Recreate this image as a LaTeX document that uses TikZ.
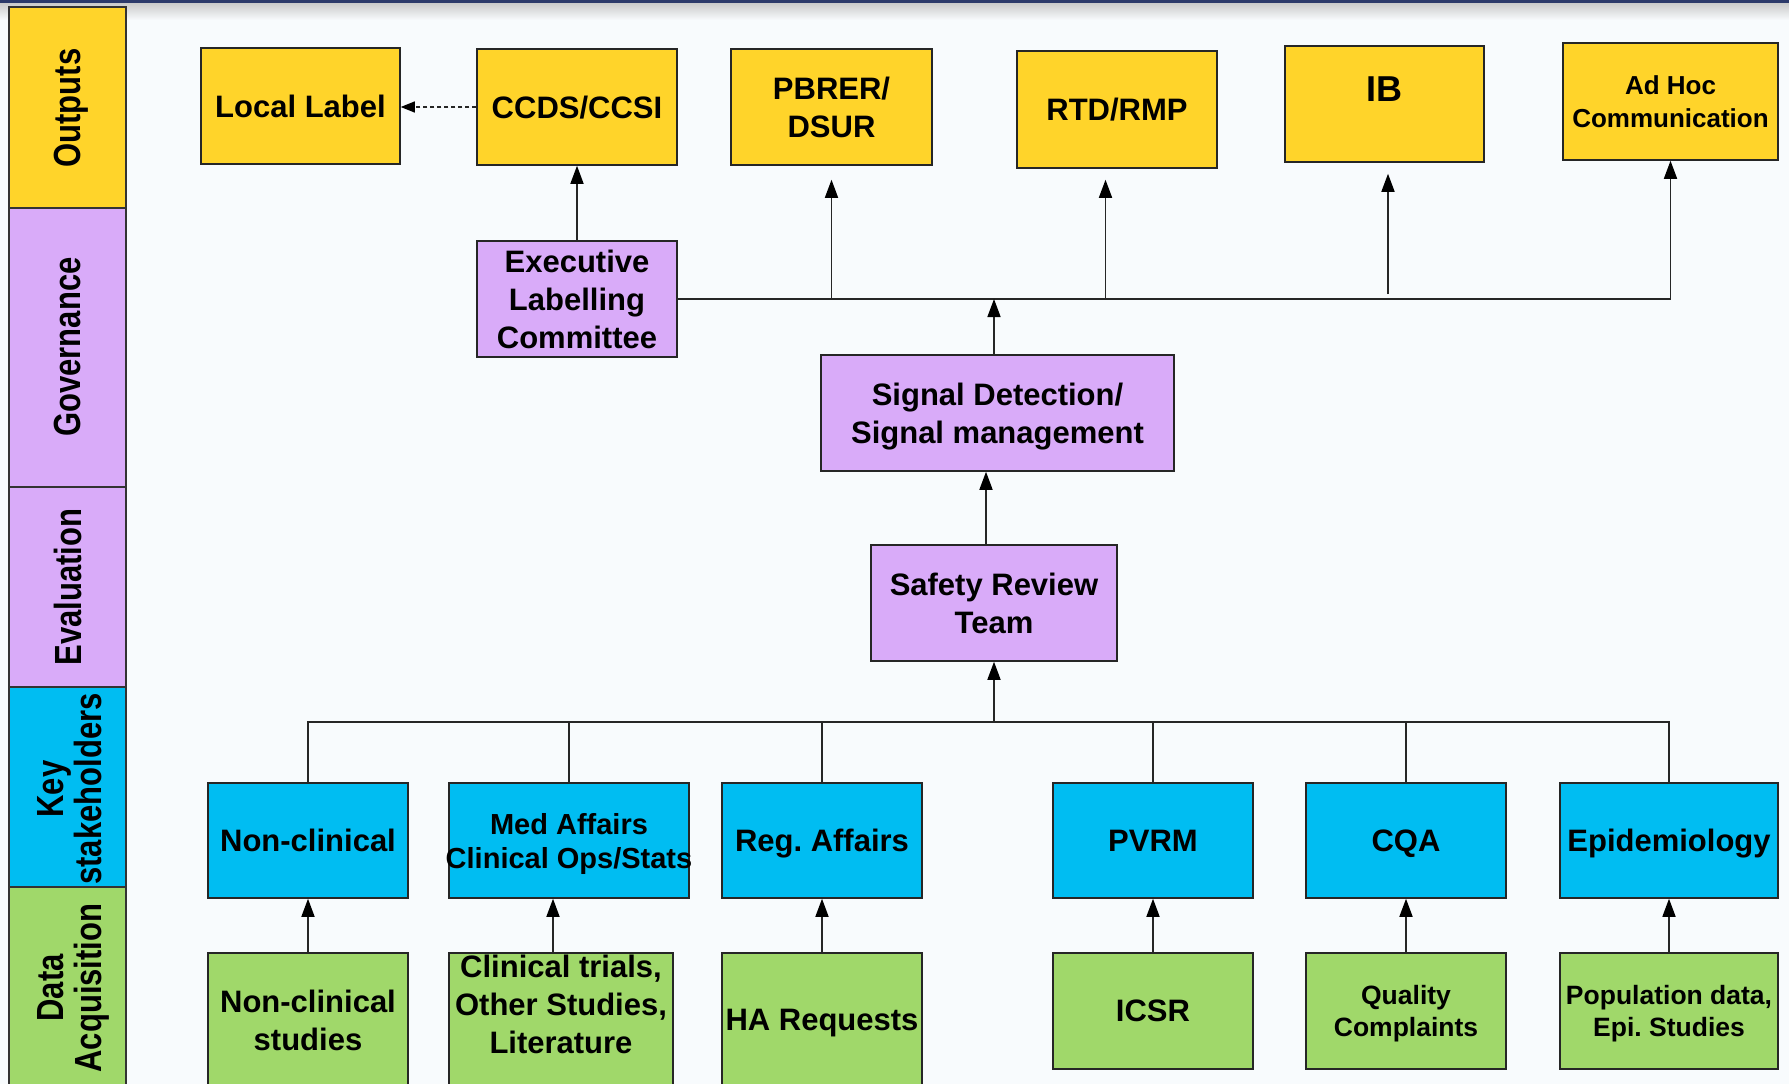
\documentclass[tikz,border=0pt]{standalone}
\usepackage{fontspec}
\setmainfont{Liberation Sans}
\usetikzlibrary{arrows.meta,calc}
\definecolor{ylw}{HTML}{FFD42A}
\definecolor{prp}{HTML}{D9ABF9}
\definecolor{cyn}{HTML}{00BDF2}
\definecolor{grn}{HTML}{A0D86A}
\definecolor{bgc}{HTML}{F8FBFD}
\definecolor{navy}{HTML}{2C3A6A}
\newcommand\sidetext[1]{\scalebox{1}[1.22]{\begin{tabular}{@{}c@{}}#1\end{tabular}}}
\newcommand\zw[1]{\makebox[0pt]{#1}}
\tikzset{
  bx/.style={draw=black!85, line width=1.5pt, inner sep=0pt, align=center, text depth=0pt,
    font=\fontsize{31}{38}\selectfont\bfseries},
  txt/.style={inner sep=0pt, align=center, text depth=0pt, font=\fontsize{31}{38}\selectfont\bfseries},
  band/.style={draw=black!80, line width=1.5pt},
  sidelbl/.style={rotate=90, inner sep=0pt, font=\fontsize{31}{31}\selectfont\bfseries},
  ln/.style={draw=black!85, line width=1.5pt},
  arr/.style={ln, -{Triangle[length=18pt,width=13pt,fill=black,color=black]}},
  dsh/.style={draw=black!85, line width=1.2pt, dash pattern=on 4pt off 3pt, -{Triangle[length=14pt,width=11pt,fill=black,color=black]}}
}
\begin{document}
\begin{tikzpicture}[x=1pt,y=-1pt]
\useasboundingbox (0,0) rectangle (1789,1084);
\fill[bgc] (0,0) rectangle (1789,1084);
\shade[top color=black!22, bottom color=bgc] (0,2) rectangle (1789,20);
\fill[navy] (0,0) rectangle (1789,3);

% side column
\draw[band, fill=ylw] (9,7) rectangle (126,208);
\draw[band, fill=prp] (9,208) rectangle (126,487);
\draw[band, fill=prp] (9,487) rectangle (126,687);
\draw[band, fill=cyn] (9,687) rectangle (126,887);
\draw[band, fill=grn] (9,887) rectangle (126,1095);
\node[sidelbl] (lout) at (73,108) {\sidetext{Outputs}};
\node[sidelbl] (lgov) at (73,347) {\sidetext{Governance}};
\node[sidelbl] (leva) at (73,587) {\sidetext{Evaluation}};
\node[sidelbl] (lkey) at (75,789) {\sidetext{Key\\stakeholders}};
\node[sidelbl] (ldat) at (75,988) {\sidetext{Data\\Acquisition}};

% outputs
\node[bx, fill=ylw, minimum width=199pt, minimum height=116pt] (loc) at (300.5,106) {Local Label};
\node[bx, fill=ylw, minimum width=200pt, minimum height=116pt] (ccds) at (577,107) {CCDS/CCSI};
\node[bx, fill=ylw, minimum width=201pt, minimum height=116pt] (pbrer) at (831.5,107) {PBRER/\\DSUR};
\node[bx, fill=ylw, minimum width=200pt, minimum height=117pt] (rtd) at (1117,109.5) {RTD/RMP};
\node[bx, fill=ylw, minimum width=199pt, minimum height=116pt] (ib) at (1384.5,104) {};
\node[txt, font=\fontsize{36}{40}\selectfont\bfseries] (ibtxt) at (1384.5,89) {IB};
\node[bx, fill=ylw, minimum width=215pt, minimum height=117pt, font=\fontsize{26}{33}\selectfont\bfseries] (adhoc) at (1670.5,101.5) {Ad Hoc\\\zw{Communication}};

% governance / evaluation
\node[bx, fill=prp, minimum width=200pt, minimum height=116pt] (elc) at (577,299) {Executive\\Labelling\\Committee};
\node[bx, fill=prp, minimum width=353pt, minimum height=116pt] (sig) at (997.5,413) {Signal Detection/\\Signal management};
\node[bx, fill=prp, minimum width=246pt, minimum height=116pt] (srt) at (994,603) {Safety Review\\Team};

% key stakeholders
\node[bx, fill=cyn, minimum width=200pt, minimum height=115pt] (nc) at (308,840.5) {Non-clinical};
\node[bx, fill=cyn, minimum width=240pt, minimum height=115pt, font=\fontsize{29}{34}\selectfont\bfseries] (med) at (569,840.5) {Med Affairs\\\zw{Clinical Ops/Stats}};
\node[bx, fill=cyn, minimum width=200pt, minimum height=115pt] (reg) at (822,840.5) {Reg.\ Affairs};
\node[bx, fill=cyn, minimum width=200pt, minimum height=115pt] (pvrm) at (1153,840.5) {PVRM};
\node[bx, fill=cyn, minimum width=200pt, minimum height=115pt] (cqa) at (1406,840.5) {CQA};
\node[bx, fill=cyn, minimum width=218pt, minimum height=115pt] (epi) at (1669,840.5) {\zw{Epidemiology}};

% data acquisition
\node[bx, fill=grn, minimum width=200pt, minimum height=134pt] (ncs) at (308,1020) {Non-clinical\\studies};
\node[bx, fill=grn, minimum width=224pt, minimum height=134pt] (ctl) at (561,1020) {};
\node[txt] (ctltxt) at (561,1004.5) {Clinical trials,\\Other Studies,\\Literature};
\node[bx, fill=grn, minimum width=200pt, minimum height=134pt] (ha) at (822,1020) {HA Requests};
\node[bx, fill=grn, minimum width=200pt, minimum height=116pt] (icsr) at (1153,1011) {ICSR};
\node[bx, fill=grn, minimum width=200pt, minimum height=116pt, font=\fontsize{26.5}{32}\selectfont\bfseries] (qc) at (1406,1011) {Quality\\Complaints};
\node[bx, fill=grn, minimum width=218pt, minimum height=116pt, font=\fontsize{26.5}{32}\selectfont\bfseries] (pop) at (1669,1011) {\zw{Population data,}\\Epi.\ Studies};

% connectors: top
\coordinate (tb) at (994,299);
\coordinate (ibfoot) at (1388,294);
\draw[arr] (elc.east) -| (adhoc.south);
\draw[arr] (pbrer.south |- tb) -- ([yshift=-14pt]pbrer.south);
\draw[arr] ([xshift=-11.5pt]rtd.south |- tb) -- ([xshift=-11.5pt,yshift=-11pt]rtd.south);
\draw[arr] (ibfoot) -- ([xshift=3.5pt,yshift=-11pt]ib.south);
\draw[arr] ([xshift=-3.5pt]sig.north) -- ([xshift=-3.5pt]sig.north |- tb);
\draw[arr] (elc.north) -- (ccds.south);
\draw[dsh] (ccds.west) -- (ccds.west -| loc.east);
\draw[arr] ([xshift=-8pt]srt.north) -- ([xshift=-8pt]srt.north |- sig.south);

% lower bus
\coordinate (kb) at (994,722);
\draw[ln] (nc.north) |- (epi.north |- kb) -- (epi.north);
\draw[ln] (med.north) -- (med.north |- kb);
\draw[ln] (reg.north) -- (reg.north |- kb);
\draw[ln] (pvrm.north) -- (pvrm.north |- kb);
\draw[ln] (cqa.north) -- (cqa.north |- kb);
\draw[arr] (kb) -- (srt.south);

% data -> stakeholders
\draw[arr] (ncs.north) -- (nc.south);
\draw[arr] ([xshift=-8pt]ctl.north) -- ([xshift=-8pt]ctl.north |- med.south);
\draw[arr] (ha.north) -- (reg.south);
\draw[arr] (icsr.north) -- (pvrm.south);
\draw[arr] (qc.north) -- (cqa.south);
\draw[arr] (pop.north) -- (epi.south);
\end{tikzpicture}
\end{document}
